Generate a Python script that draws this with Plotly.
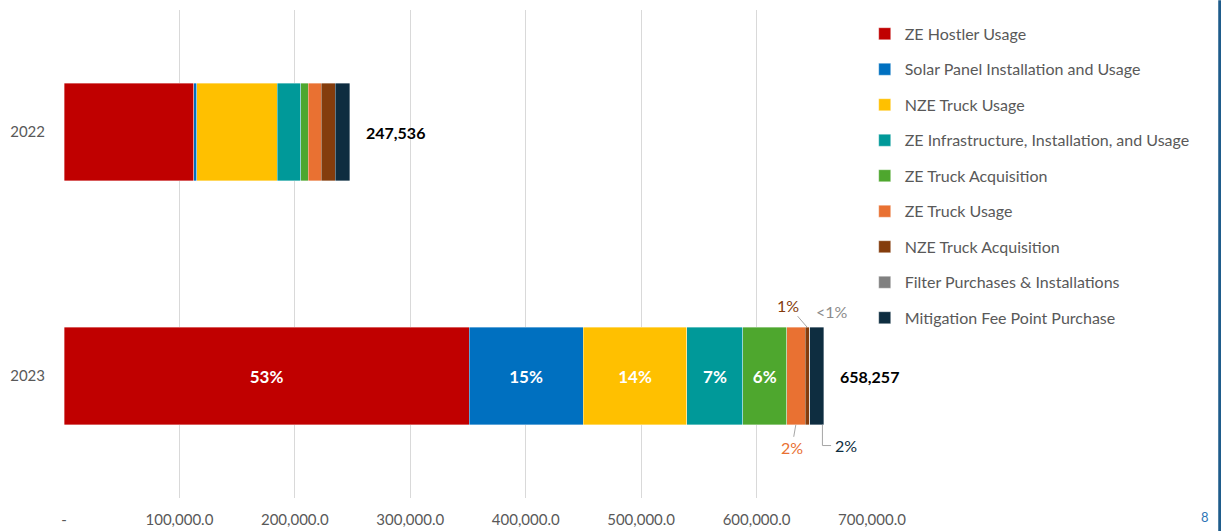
import plotly.graph_objects as go

years = ["2022", "2023"]

categories = [
    "ZE Hostler Usage",
    "Solar Panel Installation and Usage",
    "NZE Truck Usage",
    "ZE Infrastructure, Installation, and Usage",
    "ZE Truck Acquisition",
    "ZE Truck Usage",
    "NZE Truck Acquisition",
    "Filter Purchases & Installations",
    "Mitigation Fee Point Purchase",
]

values_2022 = [112600, 2400, 69600, 20500, 6300, 11300, 12400, 0, 12436]
values_2023 = [351000, 98700, 90000, 48500, 37800, 16000, 3600, 400, 12257]

pct_2023 = ["53%", "15%", "14%", "7%", "6%", "2%", "1%", "<1%", "2%"]

colors = [
    "#C00000", "#0070C0", "#FFC000", "#009999", "#4EA72E",
    "#E97132", "#843C0C", "#808080", "#0E2D40",
]

tick_vals = [0, 100000, 200000, 300000, 400000, 500000, 600000, 700000]
tick_text = ["-", "100,000.0", "200,000.0", "300,000.0", "400,000.0",
             "500,000.0", "600,000.0", "700,000.0"]

FONT = "Lato, 'Open Sans', sans-serif"
GREY = "#595959"

fig = go.Figure()
for i, cat in enumerate(categories):
    fig.add_trace(go.Bar(
        y=years,
        x=[values_2022[i], values_2023[i]],
        name=cat,
        orientation="h",
        width=0.4,
        legendgroup=cat,
        marker=dict(color=colors[i], line=dict(color="rgba(255,255,255,0.6)", width=0.6)),
        text=["", pct_2023[i] if i < 5 else ""],
        textposition="inside",
        insidetextanchor="middle",
        textangle=0,
        constraintext="none",
        textfont=dict(color="white", size=17, family=FONT, weight="bold"),
        hovertemplate="%{y}<br>%{x:,.0f}<extra>" + cat + "</extra>",
    ))

totals = [sum(values_2022), sum(values_2023)]
for k, tot in enumerate(totals):
    fig.add_annotation(
        x=tot, y=k, text=f"<b>{tot:,}</b>", showarrow=False,
        xanchor="left", xshift=14,
        font=dict(size=16, color="black", family=FONT),
    )

# outside labels for the small 2023 segments
cum = [sum(values_2023[:k]) for k in range(len(values_2023) + 1)]
mid = [(cum[k] + cum[k + 1]) / 2 for k in range(len(values_2023))]
top, bottom = 0.8, 1.2

# ZE Truck Usage (below)
fig.add_annotation(x=mid[5], y=bottom, text=pct_2023[5], showarrow=True,
                   arrowhead=0, arrowwidth=1, arrowcolor="#A6A6A6",
                   ax=-4, ay=23, font=dict(size=16, color=colors[5], family=FONT))
# NZE Truck Acquisition (above)
fig.add_annotation(x=mid[6], y=top, text=pct_2023[6], showarrow=True,
                   arrowhead=0, arrowwidth=1, arrowcolor="#A6A6A6",
                   ax=-19, ay=-22, font=dict(size=16, color="#843C0C", family=FONT))
# Filter purchases (above, no leader)
fig.add_annotation(x=mid[7], y=top, text=pct_2023[7], showarrow=False,
                   xshift=23, yshift=16, font=dict(size=16, color="#8C8C8C", family=FONT))
# Mitigation fee (below, elbow leader)
lx = cum[9] - 1200
fig.add_shape(type="line", x0=lx, x1=lx, y0=bottom, y1=bottom + 0.085,
              line=dict(color="#A6A6A6", width=1))
fig.add_shape(type="line", x0=lx, x1=lx + 7500, y0=bottom + 0.085, y1=bottom + 0.085,
              line=dict(color="#A6A6A6", width=1))
fig.add_annotation(x=lx + 7500, y=bottom + 0.085, text=pct_2023[8], showarrow=False,
                   xanchor="left", xshift=2, font=dict(size=16, color="#0E2D40", family=FONT))

# page number and slide border
fig.add_annotation(xref="paper", yref="paper", x=1.419, y=-0.059, text="8",
                   showarrow=False, font=dict(size=13, color="#2E75B6", family=FONT))
fig.add_shape(type="rect", xref="paper", yref="paper", x0=1.4285, x1=1.432, y0=-0.07, y1=1.02,
              fillcolor="#1F5C8B", line=dict(width=0), layer="above")

fig.update_layout(
    barmode="stack",
    width=1221, height=531,
    margin=dict(l=64, r=349, t=10, b=33, autoexpand=False),
    plot_bgcolor="white", paper_bgcolor="white",
    font=dict(family=FONT, color=GREY, size=15),
    xaxis=dict(
        range=[0, 700000], tickvals=tick_vals, ticktext=tick_text,
        showgrid=True, gridcolor="#D9D9D9", gridwidth=1, zeroline=False,
        ticks="outside", ticklen=8, tickcolor="rgba(0,0,0,0)",
        tickfont=dict(size=15, color=GREY), showline=False, automargin=False,
    ),
    yaxis=dict(
        type="category", autorange="reversed", showgrid=False, zeroline=False,
        ticks="outside", ticklen=15, tickcolor="rgba(0,0,0,0)",
        tickfont=dict(size=15, color=GREY), automargin=False,
    ),
    legend=dict(
        x=0.991, y=0.986, xanchor="left", yanchor="top",
        traceorder="grouped", tracegroupgap=11.7,
        font=dict(size=16, color=GREY, family=FONT),
        bgcolor="rgba(0,0,0,0)",
    ),
    showlegend=True,
)

fig.write_html("out.html", config={"displayModeBar": False},
               post_script="document.body.style.margin='0';")
